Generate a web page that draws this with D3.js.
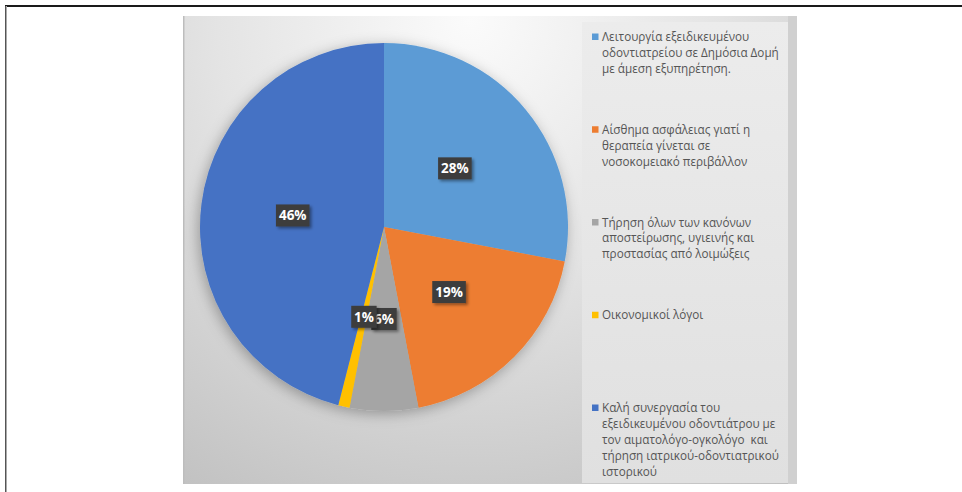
<!DOCTYPE html>
<html>
<head>
<meta charset="utf-8">
<script src="https://cdn.jsdelivr.net/npm/d3@7"></script>
<style>
  html, body { margin: 0; padding: 0; background: #ffffff; }
  svg { display: block; }
</style>
</head>
<body>
<svg id="chart" width="962" height="492"></svg>
<script>
// Categories (legend text, already broken into lines) and their shares in percent
const categories = [
  ["Λειτουργία εξειδικευμένου", "οδοντιατρείου σε Δημόσια Δομή", "με άμεση εξυπηρέτηση."],
  ["Αίσθημα ασφάλειας γιατί η", "θεραπεία γίνεται σε", "νοσοκομειακό περιβάλλον"],
  ["Τήρηση όλων των κανόνων", "αποστείρωσης, υγιεινής και", "προστασίας από λοιμώξεις"],
  ["Οικονομικοί λόγοι"],
  ["Καλή συνεργασία του", "εξειδικευμένου οδοντιάτρου με", "τον αιματολόγο-ογκολόγο  και", "τήρηση ιατρικού-οδοντιατρικού", "ιστορικού"]
];
const values = [28, 19, 6, 1, 46];
const colors = ["#5B9BD5", "#ED7D31", "#A5A5A5", "#FFC000", "#4472C4"];

const svg = d3.select("#chart");
const defs = svg.append("defs");

// Chart area background: soft radial light from the top
const bg = defs.append("radialGradient").attr("id", "bgGrad")
  .attr("gradientUnits", "userSpaceOnUse")
  .attr("cx", 470).attr("cy", 20).attr("r", 560);
bg.append("stop").attr("offset", "0%").attr("stop-color", "#fbfbfb");
bg.append("stop").attr("offset", "45%").attr("stop-color", "#e4e4e4");
bg.append("stop").attr("offset", "100%").attr("stop-color", "#c0c0c0");

const lg = defs.append("linearGradient").attr("id", "legGrad")
  .attr("x1", 0).attr("y1", 0).attr("x2", 0).attr("y2", 1);
lg.append("stop").attr("offset", "0%").attr("stop-color", "#ececec");
lg.append("stop").attr("offset", "100%").attr("stop-color", "#e0e0e0");

const pieShadow = defs.append("filter").attr("id", "pieShadow")
  .attr("x", "-20%").attr("y", "-20%").attr("width", "140%").attr("height", "140%");
pieShadow.append("feDropShadow").attr("dx", -2).attr("dy", 3)
  .attr("stdDeviation", 7).attr("flood-color", "#000").attr("flood-opacity", 0.3);

const boxShadow = defs.append("filter").attr("id", "boxShadow")
  .attr("x", "-30%").attr("y", "-30%").attr("width", "170%").attr("height", "170%");
boxShadow.append("feDropShadow").attr("dx", 2).attr("dy", 2)
  .attr("stdDeviation", 1.5).attr("flood-color", "#000").attr("flood-opacity", 0.4);

// Page frame lines
svg.append("line").attr("x1", 5).attr("x2", 962).attr("y1", 6).attr("y2", 6)
  .attr("stroke", "#1a1a1a").attr("stroke-width", 2);
svg.append("line").attr("x1", 5.5).attr("x2", 5.5).attr("y1", 6).attr("y2", 492)
  .attr("stroke", "#555").attr("stroke-width", 1);
svg.append("line").attr("x1", 6.5).attr("x2", 6.5).attr("y1", 6).attr("y2", 492)
  .attr("stroke", "#aaa").attr("stroke-width", 1);

// Chart area
const area = { x: 183, y: 16, w: 614, h: 468 };
svg.append("rect").attr("x", area.x).attr("y", area.y)
  .attr("width", area.w).attr("height", area.h).attr("fill", "url(#bgGrad)");
svg.append("rect").attr("x", area.x).attr("y", area.y).attr("width", 1.5).attr("height", area.h)
  .attr("fill", "#bdbdbd");
svg.append("rect").attr("x", area.x + area.w - 9).attr("y", area.y).attr("width", 9).attr("height", area.h)
  .attr("fill", "#d0d0d0");

// Legend panel
svg.append("rect").attr("x", 582).attr("y", 22).attr("width", 206).attr("height", 461)
  .attr("fill", "url(#legGrad)");

// Pie
const cx = 384, cy = 227, R = 184;
const pie = d3.pie().sort(null).value(d => d)(values);
const arc = d3.arc().innerRadius(0).outerRadius(R);
const labelArc = d3.arc().innerRadius(R / 2).outerRadius(R / 2);

const g = svg.append("g").attr("transform", `translate(${cx},${cy})`);
g.append("g").attr("filter", "url(#pieShadow)")
  .selectAll("path").data(pie).join("path")
  .attr("d", arc).attr("fill", (d, i) => colors[i]);

// Data labels
const lbl = g.selectAll("g.lbl").data(pie).join("g").attr("class", "lbl")
  .attr("transform", d => `translate(${labelArc.centroid(d)})`);
lbl.each(function (d) {
  const sel = d3.select(this);
  const t = d.data + "%";
  const w = t.length * 8.2 + 9;
  sel.append("rect").attr("x", -w / 2).attr("y", -11).attr("width", w).attr("height", 22)
    .attr("fill", "#3d3d3d").attr("filter", "url(#boxShadow)");
  sel.append("text").attr("text-anchor", "middle").attr("dy", "0.35em")
    .attr("font-family", "'Open Sans', 'Noto Sans', sans-serif")
    .attr("font-weight", 700).attr("font-size", 13.5).attr("fill", "#ffffff")
    .text(t);
});

// Legend
const legend = svg.append("g").attr("font-family", "'Open Sans', 'Noto Sans', sans-serif")
  .attr("font-size", 11.7).attr("fill", "#555555");
const entryY = d3.scaleLinear().domain([0, categories.length - 1]).range([37, 408]);
categories.forEach((lines, i) => {
  const y0 = entryY(i);
  legend.append("rect").attr("x", 592).attr("y", y0 - 3.5).attr("width", 6.5).attr("height", 6.5)
    .attr("fill", colors[i]);
  const t = legend.append("text").attr("x", 602).attr("y", y0).attr("dy", "0.35em");
  lines.forEach((ln, j) => {
    t.append("tspan").attr("x", 602).attr("dy", j === 0 ? "0.35em" : 15.9)
      .attr("xml:space", "preserve").text(ln);
  });
});
</script>
</body>
</html>
